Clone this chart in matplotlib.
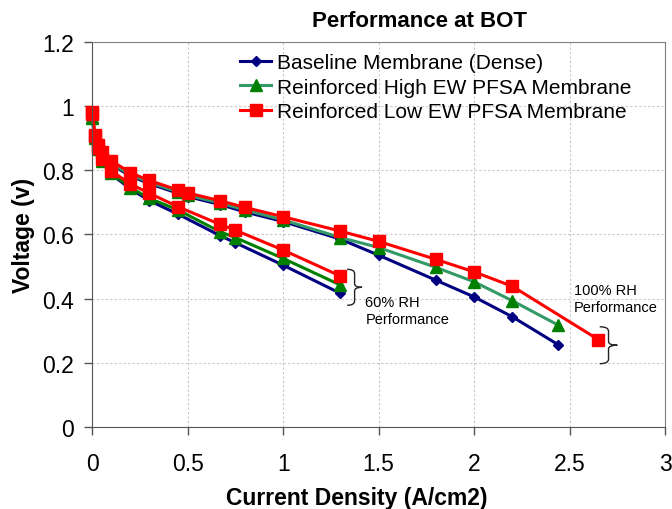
import matplotlib as mpl
mpl.use('Agg')

import matplotlib.pyplot as plt
from matplotlib.path import Path
from matplotlib.patches import PathPatch

plt.rcParams['font.family'] = ['Liberation Sans', 'DejaVu Sans']

# current density (A/cm2)
x100_low = [0.002, 0.015, 0.03, 0.05, 0.1, 0.2, 0.3, 0.45, 0.5, 0.67, 0.8, 1.0, 1.3, 1.5, 1.8, 2.0, 2.2, 2.65]
x100 = [0.002, 0.015, 0.03, 0.05, 0.1, 0.2, 0.3, 0.45, 0.5, 0.67, 0.8, 1.0, 1.3, 1.5, 1.8, 2.0, 2.2, 2.44]
x60 = [0.002, 0.015, 0.03, 0.05, 0.1, 0.2, 0.3, 0.45, 0.67, 0.75, 1.0, 1.3]

# voltages, 100% RH
base100 = [0.962, 0.9, 0.87, 0.848, 0.818, 0.782, 0.758, 0.728, 0.718, 0.693, 0.67, 0.64, 0.585, 0.535, 0.457, 0.405, 0.343, 0.256]
high100 = [0.965, 0.905, 0.875, 0.852, 0.822, 0.786, 0.762, 0.732, 0.722, 0.698, 0.676, 0.645, 0.59, 0.559, 0.497, 0.452, 0.393, 0.317]
low100 = [0.98, 0.91, 0.88, 0.858, 0.83, 0.792, 0.768, 0.738, 0.729, 0.705, 0.684, 0.655, 0.61, 0.578, 0.522, 0.483, 0.438, 0.272]

# voltages, 60% RH
base60 = [0.958, 0.895, 0.86, 0.826, 0.788, 0.742, 0.705, 0.663, 0.596, 0.574, 0.504, 0.416]
high60 = [0.962, 0.9, 0.865, 0.83, 0.792, 0.746, 0.712, 0.676, 0.608, 0.59, 0.525, 0.442]
low60 = [0.975, 0.905, 0.87, 0.835, 0.798, 0.757, 0.728, 0.686, 0.631, 0.613, 0.551, 0.47]

names = ["Baseline Membrane (Dense)", "Reinforced High EW PFSA Membrane", "Reinforced Low EW PFSA Membrane"]


def brace(ax, x, y0, y1, w):
	# curly bracket opening to the left
	h = y1 - y0
	m = (y0 + y1) / 2.0
	c = x + w / 2.0
	verts = [(x, y1), (c, y1), (c, y1 - 0.12 * h), (c, m + 0.1 * h),
		(c, m), (x + w, m), (c, m), (c, m - 0.1 * h),
		(c, y0 + 0.12 * h), (c, y0), (x, y0)]
	codes = [Path.MOVETO, Path.CURVE3, Path.CURVE3, Path.LINETO,
		Path.CURVE3, Path.CURVE3, Path.CURVE3, Path.CURVE3,
		Path.LINETO, Path.CURVE3, Path.CURVE3]
	ax.add_patch(PathPatch(Path(verts, codes), fill=False, lw=1.0, color='#222222'))


fig = plt.figure(figsize=(6.72, 5.1), dpi=100)
ax = fig.add_axes([0.137, 0.161, 0.853, 0.755])

lw = 2.2
ax.plot(x100, base100, color='#000080', marker='D', ms=5.5, lw=lw, label=names[0], clip_on=False)
ax.plot(x60, base60, color='#000080', marker='D', ms=5.5, lw=lw, clip_on=False)
ax.plot(x100, high100, color='#339966', marker='^', ms=8, mfc='#008000', mec='#008000', lw=lw, label=names[1], clip_on=False)
ax.plot(x60, high60, color='#008000', marker='^', ms=8, lw=lw, clip_on=False)
ax.plot(x100_low, low100, color='#FF0000', marker='s', ms=8.5, lw=lw, label=names[2], clip_on=False)
ax.plot(x60, low60, color='#FF0000', marker='s', ms=8.5, lw=lw, clip_on=False)

ax.set_xlim(0, 3)
ax.set_ylim(0, 1.2)
ax.set_xticks([0, 0.5, 1, 1.5, 2, 2.5, 3])
ax.set_xticklabels(["0", "0.5", "1", "1.5", "2", "2.5", "3"])
ax.set_yticks([0, 0.2, 0.4, 0.6, 0.8, 1.0, 1.2])
ax.set_yticklabels(["0", "0.2", "0.4", "0.6", "0.8", "1", "1.2"])
ax.tick_params(labelsize=16.5, direction='out', length=6, width=1, color='#555555')
ax.tick_params(axis='x', pad=12)
ax.tick_params(axis='y', pad=7)

ax.grid(True, color='#c8c8c8', linestyle=(0, (2, 2)), lw=0.8)
ax.set_axisbelow(True)
for s in ['left', 'bottom']:
	ax.spines[s].set_color('#555555')
for s in ['top', 'right']:
	ax.spines[s].set_color('#808080')

ax.set_xlabel("Current Density (A/cm2)", fontsize=16.5, fontweight='bold')
ax.xaxis.set_label_coords(0.4625, -0.153)
ax.set_ylabel("Voltage (v)", fontsize=16.5, fontweight='bold')
ax.yaxis.set_label_coords(-0.0995, 0.5)

fig.text(0.625, 0.958, "Performance at BOT", fontsize=16, fontweight='bold', ha='center', va='center')

ax.legend(loc='upper left', bbox_to_anchor=(0.258, 0.97), frameon=False, fontsize=15,
	handlelength=1.5, handletextpad=0.3, labelspacing=0.25, borderpad=0, borderaxespad=0)

## annotations
brace(ax, 1.335, 0.379, 0.491, 0.078)
ax.text(1.43, 0.3625, "60% RH\nPerformance", fontsize=10.5, va='center', ha='left')
brace(ax, 2.657, 0.197, 0.312, 0.092)
ax.text(2.52, 0.40, "100% RH\nPerformance", fontsize=10.5, va='center', ha='left')

plt.savefig("out.png", format="png", dpi=100)
